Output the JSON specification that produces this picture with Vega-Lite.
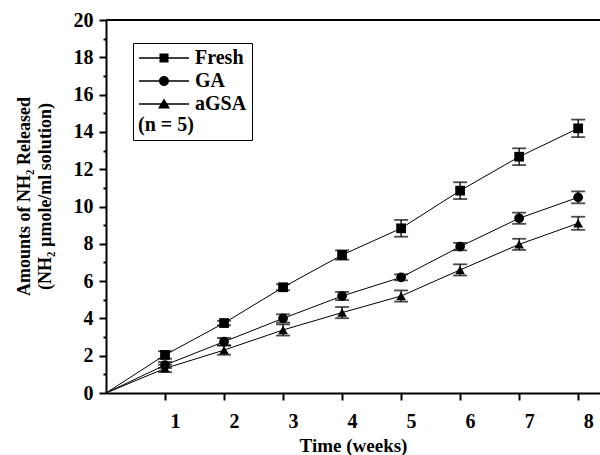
{
  "$schema": "https://vega.github.io/schema/vega-lite/v6.json",
  "width": 494,
  "height": 373,
  "autosize": "none",
  "padding": {"left": 106, "top": 20, "right": 0, "bottom": 62},
  "background": "white",
  "config": {
    "view": {"stroke": null},
    "font": "Liberation Serif",
    "axis": {"labelFont": "Liberation Serif", "titleFont": "Liberation Serif", "labelFontWeight": "bold", "titleFontWeight": "bold", "labelColor": "black", "titleColor": "black", "domainColor": "black", "tickColor": "black", "grid": false}
  },
  "data": {
    "values": [
      {"series": "Fresh", "week": 0, "mean": 0, "err": 0},
      {"series": "Fresh", "week": 1, "mean": 2.04, "err": 0.2},
      {"series": "Fresh", "week": 2, "mean": 3.75, "err": 0.12},
      {"series": "Fresh", "week": 3, "mean": 5.67, "err": 0.16},
      {"series": "Fresh", "week": 4, "mean": 7.4, "err": 0.25},
      {"series": "Fresh", "week": 5, "mean": 8.83, "err": 0.45},
      {"series": "Fresh", "week": 6, "mean": 10.85, "err": 0.45},
      {"series": "Fresh", "week": 7, "mean": 12.67, "err": 0.45},
      {"series": "Fresh", "week": 8, "mean": 14.19, "err": 0.47},
      {"series": "GA", "week": 0, "mean": 0, "err": 0},
      {"series": "GA", "week": 1, "mean": 1.5, "err": 0.16},
      {"series": "GA", "week": 2, "mean": 2.75, "err": 0.2},
      {"series": "GA", "week": 3, "mean": 4.0, "err": 0.22},
      {"series": "GA", "week": 4, "mean": 5.2, "err": 0.22},
      {"series": "GA", "week": 5, "mean": 6.2, "err": 0.16},
      {"series": "GA", "week": 6, "mean": 7.85, "err": 0.2},
      {"series": "GA", "week": 7, "mean": 9.37, "err": 0.3},
      {"series": "GA", "week": 8, "mean": 10.49, "err": 0.32},
      {"series": "aGSA", "week": 0, "mean": 0, "err": 0},
      {"series": "aGSA", "week": 1, "mean": 1.32, "err": 0.2},
      {"series": "aGSA", "week": 2, "mean": 2.3, "err": 0.25},
      {"series": "aGSA", "week": 3, "mean": 3.38, "err": 0.3},
      {"series": "aGSA", "week": 4, "mean": 4.31, "err": 0.3},
      {"series": "aGSA", "week": 5, "mean": 5.2, "err": 0.3},
      {"series": "aGSA", "week": 6, "mean": 6.6, "err": 0.3},
      {"series": "aGSA", "week": 7, "mean": 7.97, "err": 0.3},
      {"series": "aGSA", "week": 8, "mean": 9.1, "err": 0.35}
    ]
  },
  "encoding": {
    "x": {
      "field": "week", "type": "quantitative",
      "scale": {"domain": [0, 8.37], "nice": false, "zero": true},
      "axis": {"values": [1, 2, 3, 4, 5, 6, 7, 8], "title": "Time (weeks)", "labelFontSize": 20, "titleFontSize": 19, "labelOffset": 10, "labelPadding": 11, "tickSize": 7, "tickWidth": 2, "domainWidth": 2, "titlePadding": 5}
    },
    "y": {
      "field": "mean", "type": "quantitative",
      "scale": {"domain": [0, 20], "nice": false},
      "axis": {
        "values": [0, 1, 2, 3, 4, 5, 6, 7, 8, 9, 10, 11, 12, 13, 14, 15, 16, 17, 18, 19, 20],
        "labelExpr": "datum.value % 2 === 0 ? datum.label : ''",
        "tickSize": {"condition": {"test": "datum.value % 2 === 0", "value": 7}, "value": 3},
        "title": ["Amounts of NH₂ Released", "(NH₂ µmole/ml solution)"],
        "labelFontSize": 20, "titleFontSize": 18, "titleLineHeight": 21,
        "tickWidth": 2, "domainWidth": 2, "labelPadding": 6,
        "titleX": -77, "titleY": 176, "titleBaseline": "alphabetic", "titleAngle": -90
      }
    }
  },
  "resolve": {"scale": {"shape": "independent"}},
  "layer": [
    {
      "mark": {"type": "rule", "color": "black", "strokeWidth": 2},
      "encoding": {"x": null, "y": {"datum": 20}}
    },
    {
      "mark": {"type": "line", "color": "black", "strokeWidth": 1},
      "encoding": {"detail": {"field": "series"}}
    },
    {
      "transform": [{"filter": "datum.week > 0"}],
      "mark": {"type": "errorbar", "color": "black", "ticks": {"size": 14, "thickness": 1.8, "color": "black"}, "rule": {"strokeWidth": 1.3}},
      "encoding": {"yError": {"field": "err"}, "detail": {"field": "series"}}
    },
    {
      "transform": [{"filter": "datum.week > 0"}],
      "mark": {"type": "point", "filled": true, "color": "black", "opacity": 1, "size": 95},
      "encoding": {
        "shape": {
          "field": "series", "type": "nominal",
          "scale": {"domain": ["Fresh", "GA", "aGSA"], "range": ["square", "circle", "triangle-up"]},
          "legend": null
        }
      }
    },
    {
      "transform": [{"filter": "datum.week < 0"}],
      "mark": {"type": "point", "filled": true, "color": "black", "opacity": 1, "size": 100},
      "encoding": {
        "shape": {
          "field": "series", "type": "nominal",
          "scale": {"domain": ["Fresh", "GA", "aGSA"], "range": ["M-5,-0.13H5V0.13H-5ZM-0.9,-0.9H0.9V0.9H-0.9Z", "M-5,-0.13H5V0.13H-5ZM1,0A1,1,0,1,1,-1,0A1,1,0,1,1,1,0Z", "M-5,-0.13H5V0.13H-5ZM0,-1.1L1.2,0.9H-1.2Z"]},
          "legend": {
            "title": "(n = 5)", "titleOrient": "bottom", "titleAnchor": "start",
            "orient": "none", "legendX": 27, "legendY": 23,
            "strokeColor": "black", "padding": 5,
            "labelFont": "Liberation Serif", "labelFontWeight": "bold", "labelFontSize": 20, "labelColor": "black",
            "titleFont": "Liberation Serif", "titleFontWeight": "bold", "titleFontSize": 20, "titleColor": "black", "titlePadding": 1,
            "symbolSize": 100, "symbolOpacity": 1,
            "symbolOffset": 16, "labelOffset": 21, "rowPadding": 3,
            "encode": {
              "legend": {"update": {"strokeWidth": {"value": 1.5}}}
            }
          }
        }
      }
    }
  ]
}
